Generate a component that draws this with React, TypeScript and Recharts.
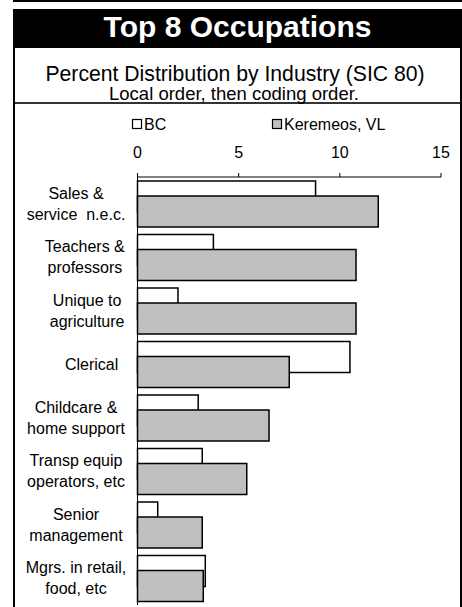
import { BarChart, Bar, XAxis, YAxis } from "recharts"

const FONT = "'Liberation Sans', Arial, sans-serif"

// Occupations, local order then coding order (labels keep their padding)
const occupations = [
  "Sales &\nservice  n.e.c.",
  "    Teachers &\n    professors",
  "     Unique to\n     agriculture",
  "       Clerical",
  "Childcare &\nhome support",
  "Transp equip\noperators, etc",
  "Senior\nmanagement",
  "Mgrs. in retail,\nfood, etc",
]

// percent of labour force
const bcShare = [8.8, 3.75, 2.0, 10.5, 3.0, 3.2, 1.0, 3.35]
const keremeosShare = [11.9, 10.8, 10.8, 7.5, 6.5, 5.4, 3.2, 3.25]

const xTicks = [0, 5, 10, 15]

const data = occupations.map((name, i) => ({
  name,
  bc: bcShare[i],
  keremeos: keremeosShare[i],
}))

const LABEL_X = 76
const LINE_H = 21

function OccupationTick(props: any) {
  const { y, payload } = props
  const lines = String(payload.value).split("\n")
  return (
    <text
      x={LABEL_X}
      y={y}
      textAnchor="middle"
      fontSize={16}
      fill="#000"
      fontFamily={FONT}
      style={{ whiteSpace: "pre" }}
    >
      {lines.map((line, i) => (
        <tspan key={i} x={LABEL_X} dy={i === 0 ? -((lines.length - 1) / 2) * LINE_H + 5.5 : LINE_H}>
          {line}
        </tspan>
      ))}
    </text>
  )
}

function Header() {
  return (
    <svg width={462} height={607} style={{ position: "absolute", left: 0, top: 0 }} fontFamily={FONT}>
      <rect x={13} y={0} width={449} height={2} fill="#000" />
      <rect x={13} y={9} width={449} height={39} fill="#000" />
      <text x={237.5} y={37} textAnchor="middle" fontSize={30} fontWeight="bold" fill="#fff">
        Top 8 Occupations
      </text>
      <rect x={13} y={48} width={2} height={559} fill="#000" />
      <rect x={460} y={48} width={2} height={559} fill="#000" />
      <rect x={15} y={102} width={445} height={2} fill="#333" />
      <text x={235} y={81} textAnchor="middle" fontSize={21.2} fill="#000">
        Percent Distribution by Industry (SIC 80)
      </text>
      <text x={234} y={100} textAnchor="middle" fontSize={18.5} fill="#000">
        Local order, then coding order.
      </text>
      {/* legend */}
      <rect x={132.5} y={119.5} width={9} height={9} fill="#fff" stroke="#000" strokeWidth={1.2} />
      <text x={144} y={130} fontSize={16} fill="#000">BC</text>
      <rect x={272.5} y={119.5} width={9} height={9} fill="#c0c0c0" stroke="#000" strokeWidth={1.2} />
      <text x={284} y={130} fontSize={16} fill="#000">Keremeos, VL</text>
    </svg>
  )
}

export default function App() {
  return (
    <div
      style={{
        position: "absolute",
        left: 0,
        top: 0,
        width: 462,
        height: 607,
        overflow: "hidden",
        background: "#fff",
      }}
    >
      <Header />
      <div style={{ position: "absolute", left: 0, top: 0 }}>
        <BarChart
          width={462}
          height={607}
          layout="vertical"
          data={data}
          margin={{ top: 147, right: 21, bottom: 2, left: 0 }}
          barGap={-16}
          style={{ fontFamily: FONT }}
        >
          <XAxis
            type="number"
            orientation="top"
            domain={[0, 15]}
            ticks={xTicks}
            height={30}
            tickSize={4}
            tickMargin={15}
            axisLine={{ stroke: "#000" }}
            tickLine={{ stroke: "#000" }}
            tick={{ fill: "#000", fontSize: 16, fontFamily: FONT }}
          />
          <YAxis
            type="category"
            dataKey="name"
            width={137.5}
            interval={0}
            axisLine={{ stroke: "#000" }}
            tickLine={false}
            tick={<OccupationTick />}
          />
          <Bar dataKey="bc" name="BC" fill="#fff" stroke="#000" strokeWidth={1.5} barSize={31} isAnimationActive={false} />
          <Bar
            dataKey="keremeos"
            name="Keremeos, VL"
            fill="#c0c0c0"
            stroke="#000"
            strokeWidth={1.5}
            barSize={31}
            isAnimationActive={false}
          />
        </BarChart>
      </div>
    </div>
  )
}
